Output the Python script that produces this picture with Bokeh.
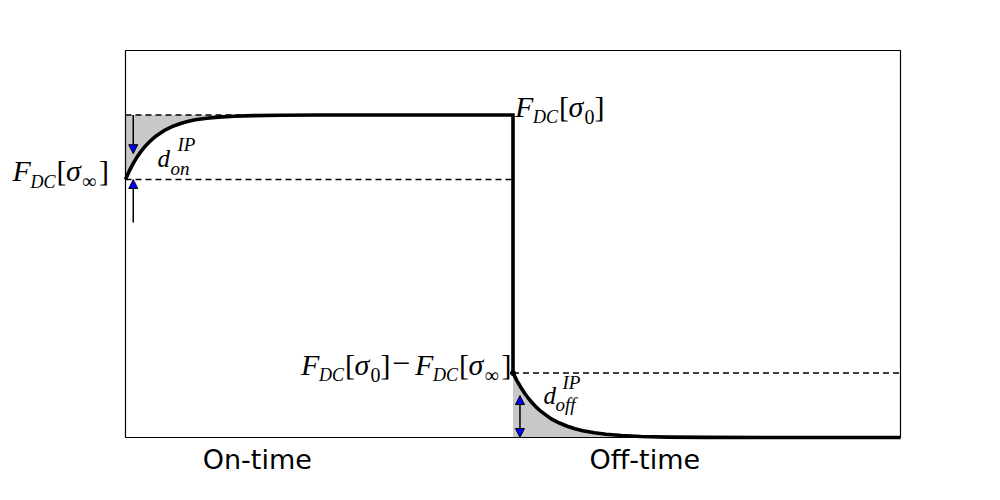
from bokeh.plotting import figure
from bokeh.models import Range1d, Label, Arrow, NormalHead
from bokeh.embed import file_html
from bokeh.resources import INLINE

# ---- data ----
level_sigma0 = 1.0      # F_DC[sigma_0]
level_sigma_inf = 0.8   # F_DC[sigma_inf]
level_diff = 0.2        # F_DC[sigma_0] - F_DC[sigma_inf]
y_top = 1.2
t_end = 2.0

on_t = [0.0, 0.01, 0.02, 0.03, 0.04, 0.05, 0.06, 0.07, 0.08, 0.10, 0.12, 0.14,
        0.16, 0.18, 0.21, 0.24, 0.28, 0.33, 0.40, 0.50, 0.70, 1.0]
on_y = [0.800, 0.827, 0.850, 0.870, 0.887, 0.902, 0.915, 0.926, 0.936, 0.952, 0.964, 0.973,
        0.980, 0.985, 0.990, 0.9935, 0.996, 0.998, 0.999, 1.0, 1.0, 1.0]
off_t = [1.0, 1.01, 1.02, 1.03, 1.04, 1.05, 1.06, 1.07, 1.08, 1.10, 1.12, 1.14,
         1.16, 1.18, 1.21, 1.24, 1.28, 1.33, 1.40, 1.50, 1.70, 2.0]
off_y = [0.200, 0.1765, 0.156, 0.137, 0.121, 0.107, 0.094, 0.083, 0.074, 0.057, 0.045, 0.035,
         0.027, 0.021, 0.0145, 0.010, 0.006, 0.0032, 0.0013, 0.0004, 0.0, 0.0]

period_ticks = [0.34, 1.34]
period_labels = ["On-time", "Off-time"]

arrow_on_x = 0.02
arrow_on_down = (1.0, 0.88)
arrow_on_up = (0.667, 0.8)
arrow_off_x = 1.018
arrow_off = (0.0, 0.13)

# ---- layout (pixels) ----
W, H = 984, 484
box_left, box_right, box_top, box_bottom = 125, 900, 50, 437
sx = (box_right - box_left) / t_end
sy = (box_bottom - box_top) / y_top

p = figure(width=W, height=H, output_backend="svg", toolbar_location=None,
           x_range=Range1d(-box_left / sx, t_end + (W - box_right) / sx),
           y_range=Range1d(-(H - box_bottom) / sy, y_top + box_top / sy),
           min_border=0)
p.axis.visible = False
p.grid.visible = False
p.outline_line_color = None

# shaded regions
p.varea(x=on_t, y1=on_y, y2=[level_sigma0] * len(on_t), fill_color="#c8c8c8")
p.varea(x=off_t, y1=[0.0] * len(off_t), y2=off_y, fill_color="#c8c8c8")

# axes box
p.quad(left=0, right=t_end, bottom=0, top=y_top, fill_color=None, line_color="black", line_width=1.2)

# dashed reference lines
dash = dict(line_color="black", line_width=1.3, line_dash="6 4")
p.line([on_t[0], on_t[-1]], [level_sigma0, level_sigma0], **dash)
p.line([on_t[0], on_t[-1]], [level_sigma_inf, level_sigma_inf], **dash)
p.line([off_t[0], off_t[-1]], [level_diff, level_diff], **dash)

# main curve
p.line(on_t + off_t, on_y + off_y, line_color="black", line_width=3.6, line_join="miter")
p.scatter([off_t[0]], [off_y[0]], size=5, color="black")

# arrows
def head():
    return NormalHead(size=9, fill_color="#0000ff", line_color="black", line_width=1)

p.add_layout(Arrow(x_start=arrow_on_x, y_start=arrow_on_down[0], x_end=arrow_on_x, y_end=arrow_on_down[1],
                   end=head(), line_color="black", line_width=1.5))
p.add_layout(Arrow(x_start=arrow_on_x, y_start=arrow_on_up[0], x_end=arrow_on_x, y_end=arrow_on_up[1],
                   end=head(), line_color="black", line_width=1.5))
p.add_layout(Arrow(x_start=arrow_off_x, y_start=arrow_off[0], x_end=arrow_off_x, y_end=arrow_off[1],
                   start=head(), end=head(), line_color="black", line_width=1.5))

# text helper: dy = baseline offset in px (down), corrected for the renderer's baseline shift
def put(x, y, txt, dx, dy, size, italic=False, font="Liberation Serif", align="left"):
    p.add_layout(Label(x=x, y=y, x_offset=dx, y_offset=-(dy - 0.3 * size), text=txt,
                       text_font=font, text_font_size=f"{size}px",
                       text_font_style="italic" if italic else "normal",
                       text_baseline="alphabetic", text_align=align, text_color="black"))

def fdc(x, y, S, sub, sub_w):
    put(x, y, "F", S, 0, 30, True)
    put(x, y, "DC", S + 18, 7.5, 18, True)
    put(x, y, "[", S + 44, 0, 30)
    put(x, y, "σ", S + 53.5, 0, 30, True)
    put(x, y, sub, S + 69.5, 7.5, 20)
    put(x, y, "]", S + 69.5 + sub_w, 0, 30)

# F_DC[sigma_inf] left of the box
fdc(0, level_sigma_inf, -113, "∞", 17)
# F_DC[sigma_0] right of the corner
fdc(1, level_sigma0, 2, "0", 10)
# F_DC[sigma_0] - F_DC[sigma_inf]
S = -212
fdc(1, level_diff, S, "0", 10)
put(1, level_diff, "−", S + 91, 0, 32)
fdc(1, level_diff, S + 114, "∞", 17)
# d_on^IP
put(0, level_sigma0, "d", 32, 50.5, 25, True)
put(0, level_sigma0, "on", 45, 59, 19, True)
put(0, level_sigma0, "IP", 52, 35.5, 19, True)
# d_off^IP
put(1, level_diff, "d", 30.5, 29.5, 25, True)
put(1, level_diff, "off", 42.5, 37.5, 19, True)
put(1, level_diff, "IP", 49.5, 15, 19, True)

# period labels under the box
for t, lab in zip(period_ticks, period_labels):
    put(t, 0, lab, 0, 30, 27, font="DejaVu Sans", align="center")

open("out.html", "w").write(file_html(p, INLINE))
